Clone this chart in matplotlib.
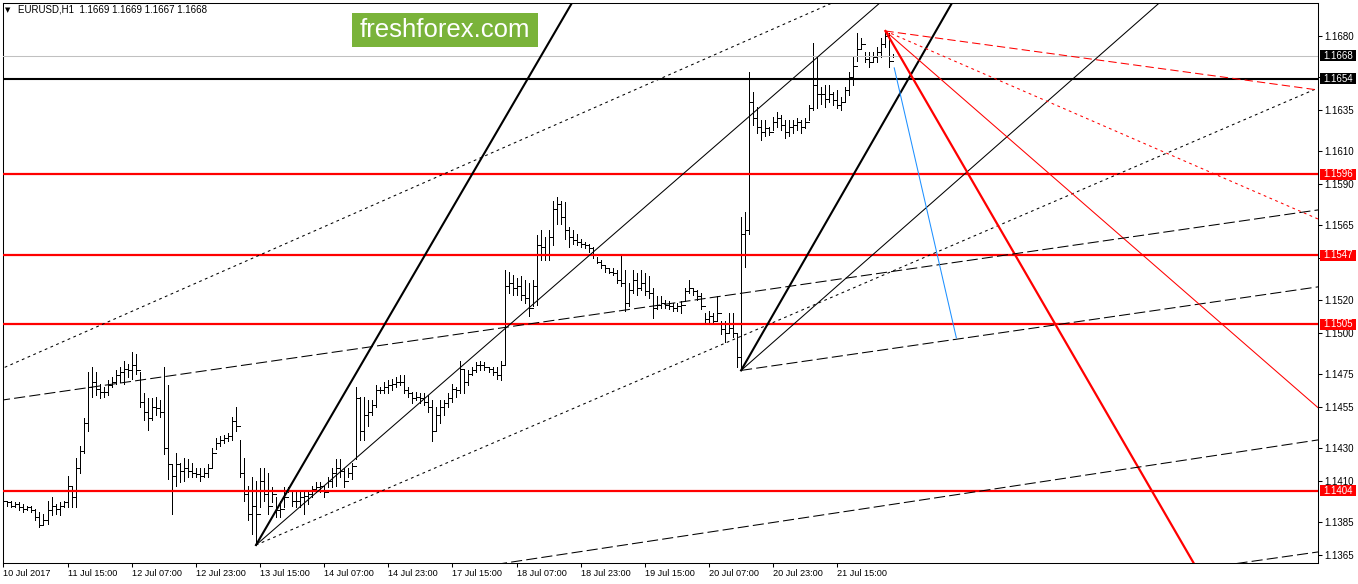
import matplotlib
matplotlib.use('Agg')
import matplotlib.pyplot as plt
import matplotlib.transforms as mtransforms
from matplotlib.patches import Rectangle
import numpy as np

plt.rcParams['font.family'] = ['Liberation Sans', 'DejaVu Sans']
plt.rcParams['lines.scale_dashes'] = False

# EURUSD H1 bars
highs = [1.1399, 1.1398, 1.1398, 1.1397, 1.1397, 1.1396, 1.1395, 1.1395, 1.1393, 1.1391,
         1.1390, 1.1398, 1.1400, 1.1396, 1.1397, 1.1398, 1.1413, 1.1406, 1.1424, 1.1431,
         1.1448, 1.1476, 1.1479, 1.1476, 1.1469, 1.1467, 1.1471, 1.1473, 1.1477, 1.1479,
         1.1483, 1.1481, 1.1488, 1.1487, 1.1476, 1.1463, 1.1460, 1.1460, 1.1461, 1.1459,
         1.1479, 1.1468, 1.1420, 1.1427, 1.1421, 1.1424, 1.1423, 1.1421, 1.1418, 1.1418,
         1.1418, 1.1420, 1.1430, 1.1436, 1.1437, 1.1438, 1.1439, 1.1449, 1.1455, 1.1435,
         1.1424, 1.1407, 1.1412, 1.1410, 1.1418, 1.1418, 1.1415, 1.1406, 1.1400, 1.1398,
         1.1406, 1.1406, 1.1403, 1.1403, 1.1403, 1.1404, 1.1404, 1.1407, 1.1409, 1.1409,
         1.1406, 1.1412, 1.1418, 1.1423, 1.1423, 1.1418, 1.1418, 1.1421, 1.1467, 1.1461,
         1.1461, 1.1459, 1.1459, 1.1468, 1.1467, 1.1470, 1.1471, 1.1472, 1.1473, 1.1474,
         1.1474, 1.1467, 1.1464, 1.1464, 1.1463, 1.1463, 1.1462, 1.1459, 1.1455, 1.1459,
         1.1459, 1.1463, 1.1469, 1.1467, 1.1483, 1.1477, 1.1477, 1.1479, 1.1482, 1.1483,
         1.1482, 1.1479, 1.1479, 1.1479, 1.1483, 1.1538, 1.1537, 1.1535, 1.1533, 1.1534,
         1.1532, 1.1530, 1.1532, 1.1559, 1.1562, 1.1558, 1.1562, 1.1580, 1.1582, 1.1580,
         1.1579, 1.1564, 1.1562, 1.1560, 1.1557, 1.1555, 1.1554, 1.1552, 1.1546, 1.1544,
         1.1541, 1.1539, 1.1539, 1.1538, 1.1547, 1.1538, 1.1530, 1.1538, 1.1536, 1.1538,
         1.1536, 1.1534, 1.1527, 1.1522, 1.1522, 1.1520, 1.1519, 1.1518, 1.1518, 1.1519,
         1.1527, 1.1532, 1.1527, 1.1526, 1.1524, 1.1512, 1.1513, 1.1512, 1.1522, 1.1507,
         1.1507, 1.1512, 1.1512, 1.1500, 1.1570, 1.1573, 1.1658, 1.1646, 1.1637, 1.1629,
         1.1629, 1.1625, 1.1631, 1.1634, 1.1632, 1.1629, 1.1629, 1.1629, 1.1630, 1.1629,
         1.1630, 1.1638, 1.1676, 1.1667, 1.1649, 1.1650, 1.1650, 1.1646, 1.1647, 1.1643,
         1.1649, 1.1658, 1.1667, 1.1682, 1.1679, 1.1670, 1.1670, 1.1670, 1.1673, 1.1679,
         1.1683, 1.1682, 1.1669]
lows = [1.1396, 1.1395, 1.1394, 1.1394, 1.1392, 1.1391, 1.1392, 1.1391, 1.1386, 1.1382,
        1.1383, 1.1384, 1.1389, 1.1390, 1.1389, 1.1394, 1.1394, 1.1394, 1.1394, 1.1415,
        1.1427, 1.1440, 1.1461, 1.1462, 1.1460, 1.1461, 1.1462, 1.1467, 1.1469, 1.1470,
        1.1469, 1.1473, 1.1472, 1.1475, 1.1455, 1.1447, 1.1441, 1.1447, 1.1450, 1.1449,
        1.1426, 1.1411, 1.1390, 1.1407, 1.1409, 1.1410, 1.1412, 1.1412, 1.1412, 1.1410,
        1.1412, 1.1412, 1.1418, 1.1429, 1.1431, 1.1433, 1.1434, 1.1435, 1.1440, 1.1412,
        1.1398, 1.1386, 1.1378, 1.1371, 1.1394, 1.1398, 1.1390, 1.1397, 1.1388, 1.1388,
        1.1394, 1.1403, 1.1395, 1.1394, 1.1394, 1.1390, 1.1396, 1.1400, 1.1403, 1.1403,
        1.1400, 1.1406, 1.1406, 1.1407, 1.1412, 1.1406, 1.1412, 1.1411, 1.1423, 1.1435,
        1.1435, 1.1443, 1.1450, 1.1455, 1.1463, 1.1463, 1.1463, 1.1465, 1.1467, 1.1468,
        1.1463, 1.1461, 1.1457, 1.1459, 1.1457, 1.1456, 1.1452, 1.1434, 1.1440, 1.1445,
        1.1450, 1.1455, 1.1458, 1.1461, 1.1463, 1.1463, 1.1468, 1.1474, 1.1476, 1.1477,
        1.1477, 1.1476, 1.1474, 1.1472, 1.1471, 1.1480, 1.1524, 1.1523, 1.1523, 1.1520,
        1.1518, 1.1510, 1.1516, 1.1517, 1.1544, 1.1544, 1.1544, 1.1553, 1.1566, 1.1566,
        1.1557, 1.1552, 1.1554, 1.1553, 1.1552, 1.1551, 1.1549, 1.1545, 1.1542, 1.1539,
        1.1537, 1.1536, 1.1535, 1.1530, 1.1528, 1.1513, 1.1516, 1.1524, 1.1523, 1.1526,
        1.1523, 1.1521, 1.1509, 1.1514, 1.1515, 1.1515, 1.1514, 1.1513, 1.1513, 1.1512,
        1.1519, 1.1524, 1.1523, 1.1520, 1.1514, 1.1505, 1.1506, 1.1505, 1.1507, 1.1499,
        1.1494, 1.1500, 1.1497, 1.1479, 1.1477, 1.1540, 1.1560, 1.1626, 1.1621, 1.1617,
        1.1619, 1.1620, 1.1623, 1.1625, 1.1623, 1.1618, 1.1619, 1.1621, 1.1623, 1.1621,
        1.1624, 1.1629, 1.1635, 1.1636, 1.1639, 1.1637, 1.1640, 1.1638, 1.1636, 1.1635,
        1.1640, 1.1644, 1.1650, 1.1665, 1.1672, 1.1664, 1.1661, 1.1664, 1.1664, 1.1667,
        1.1673, 1.1661, 1.1667]
closes = [1.1398, 1.1397, 1.1395, 1.1396, 1.1394, 1.1393, 1.1394, 1.1392, 1.1388, 1.1383,
          1.1386, 1.1392, 1.1395, 1.1393, 1.1395, 1.1397, 1.1407, 1.1400, 1.1418, 1.1428,
          1.1445, 1.1467, 1.1470, 1.1466, 1.1464, 1.1464, 1.1468, 1.1470, 1.1474, 1.1476,
          1.1478, 1.1477, 1.1480, 1.1477, 1.1458, 1.1452, 1.1448, 1.1455, 1.1454, 1.1452,
          1.1430, 1.1420, 1.1413, 1.1420, 1.1416, 1.1418, 1.1416, 1.1415, 1.1414, 1.1413,
          1.1415, 1.1418, 1.1427, 1.1433, 1.1435, 1.1436, 1.1437, 1.1446, 1.1443, 1.1415,
          1.1402, 1.1390, 1.1395, 1.1390, 1.1410, 1.1402, 1.1395, 1.1402, 1.1392, 1.1393,
          1.1400, 1.1404, 1.1398, 1.1398, 1.1400, 1.1401, 1.1402, 1.1405, 1.1406, 1.1407,
          1.1403, 1.1410, 1.1415, 1.1418, 1.1416, 1.1410, 1.1415, 1.1419, 1.1460, 1.1440,
          1.1450, 1.1452, 1.1456, 1.1465, 1.1465, 1.1467, 1.1468, 1.1469, 1.1470, 1.1470,
          1.1465, 1.1463, 1.1460, 1.1461, 1.1460, 1.1458, 1.1455, 1.1440, 1.1450, 1.1455,
          1.1457, 1.1460, 1.1466, 1.1465, 1.1478, 1.1470, 1.1475, 1.1477, 1.1480, 1.1480,
          1.1479, 1.1478, 1.1476, 1.1474, 1.1480, 1.1528, 1.1530, 1.1527, 1.1528, 1.1523,
          1.1521, 1.1515, 1.1528, 1.1553, 1.1552, 1.1547, 1.1558, 1.1575, 1.1578, 1.1570,
          1.1562, 1.1558, 1.1556, 1.1555, 1.1554, 1.1553, 1.1551, 1.1547, 1.1543, 1.1541,
          1.1539, 1.1537, 1.1536, 1.1532, 1.1530, 1.1518, 1.1526, 1.1532, 1.1527, 1.1530,
          1.1525, 1.1524, 1.1515, 1.1517, 1.1518, 1.1517, 1.1516, 1.1515, 1.1516, 1.1517,
          1.1525, 1.1527, 1.1525, 1.1522, 1.1516, 1.1508, 1.1510, 1.1507, 1.1512, 1.1502,
          1.1500, 1.1503, 1.1500, 1.1485, 1.1560, 1.1562, 1.1640, 1.1630, 1.1625, 1.1622,
          1.1624, 1.1622, 1.1628, 1.1630, 1.1626, 1.1622, 1.1625, 1.1626, 1.1628, 1.1625,
          1.1628, 1.1636, 1.1650, 1.1645, 1.1645, 1.1642, 1.1645, 1.1641, 1.1638, 1.1640,
          1.1647, 1.1655, 1.1662, 1.1672, 1.1675, 1.1666, 1.1664, 1.1667, 1.1670, 1.1675,
          1.1680, 1.1665, 1.1668]
first_open = 1.1398

date_ticks = list(range(0, 209, 16))
date_labels = ['10 Jul 2017', '11 Jul 15:00', '12 Jul 07:00', '12 Jul 23:00', '13 Jul 15:00',
               '14 Jul 07:00', '14 Jul 23:00', '17 Jul 15:00', '18 Jul 07:00', '18 Jul 23:00',
               '19 Jul 15:00', '20 Jul 07:00', '20 Jul 23:00', '21 Jul 15:00']
price_ticks = [1.1365, 1.1385, 1.1410, 1.1430, 1.1455, 1.1475, 1.1500, 1.1520,
               1.1545, 1.1565, 1.1590, 1.1610, 1.1635, 1.1655, 1.1680]
# these two scale labels sit fully under the level boxes
hidden_ticks = [1.1545, 1.1655]

red_levels = [1.1596, 1.1547, 1.1505, 1.1404]
black_level = 1.1654
bid_price = 1.1668

# trend line anchors: (bar0, price0, bar1, price1)
fan_low1 = [(63, 1.1371, 141.8, 1.1700),    # thick
            (63, 1.1371, 218.6, 1.1700),    # thin
            (63, 1.1371, 327.9, 1.16484)]   # dotted
fan_low2 = [(184, 1.1477, 236.6, 1.1700),   # thick
            (184, 1.1477, 288.3, 1.1700),   # thin
            (184, 1.1477, 327.9, 1.15277)]  # dashed
fan_high = [(220, 1.1683, 296.9, 1.1360),   # thick
            (220, 1.1683, 327.9, 1.14544),  # thin
            (220, 1.1683, 327.9, 1.15689),  # dotted
            (220, 1.1683, 327.9, 1.16472)]  # dashed
upper_dotted = (0, 1.14785, 206.7, 1.1700)
dashed_upper = (0, 1.14591, 327.9, 1.15744)
dashed_mid = (125.2, 1.13601, 327.9, 1.14348)
dashed_low = (308.5, 1.13601, 327.9, 1.13668)
blue_seg = (222.2, 1.16606, 237.7, 1.14967)

W, H = 1358, 584
fig = plt.figure(figsize=(W / 100, H / 100), dpi=100)
ax = fig.add_axes([3 / W, 21 / H, 1315 / W, 560 / H])
ax.set_xlim(-0.1, 327.9)
ax.set_ylim(1.13601, 1.17000)

# OHLC bars
x = np.arange(len(highs))
opens = [first_open] + closes[:-1]
ax.vlines(x, lows, highs, color='black', lw=0.72, antialiased=False, zorder=2)
ax.hlines(opens, x - 0.4, x, color='black', lw=0.72, antialiased=False, zorder=2)
ax.hlines(closes, x, x + 0.4, color='black', lw=0.72, antialiased=False, zorder=2)


def ray(seg, **kw):
    x0, p0, x1, p1 = seg
    k = (p1 - p0) / (x1 - x0)
    ax.plot([x0, 400], [p0, p0 + k * (400 - x0)], zorder=3, **kw)


def line(seg, **kw):
    x0, p0, x1, p1 = seg
    k = (p1 - p0) / (x1 - x0)
    ax.plot([-50, 400], [p0 + k * (-50 - x0), p0 + k * (400 - x0)], zorder=3, **kw)


dot = (2, 2.5)
dash = (8, 3)

# horizontal levels
ax.axhline(bid_price, color='#c0c0c0', lw=0.75, zorder=3)
ax.axhline(black_level, color='black', lw=1.5, zorder=3)
for lv in red_levels:
    ax.axhline(lv, color='red', lw=1.6, zorder=3)

ray(fan_low1[0], color='black', lw=1.5)
ray(fan_low1[1], color='black', lw=0.75)
ray(fan_low1[2], color='black', lw=0.75, dashes=dot)
ray(fan_low2[0], color='black', lw=1.5)
ray(fan_low2[1], color='black', lw=0.75)
ray(fan_low2[2], color='black', lw=0.75, dashes=dash)
ray(fan_high[0], color='red', lw=1.6)
ray(fan_high[1], color='red', lw=0.75)
ray(fan_high[2], color='red', lw=0.75, dashes=dot)
ray(fan_high[3], color='red', lw=0.75, dashes=(6, 3))
line(upper_dotted, color='black', lw=0.75, dashes=dot)
line(dashed_upper, color='black', lw=0.75, dashes=dash)
line(dashed_mid, color='black', lw=0.75, dashes=dash)
line(dashed_low, color='black', lw=0.75, dashes=dash)
ax.plot(blue_seg[0::2], blue_seg[1::2], color='#1e90ff', lw=0.75, zorder=3)

# axes look
for s in ax.spines.values():
    s.set_linewidth(0.75)
ax.yaxis.tick_right()
ax.set_yticks(price_ticks)
ax.set_yticklabels(['' if p in hidden_ticks else '%.4f' % p for p in price_ticks])
ax.set_xticks(date_ticks)
ax.set_xticklabels(date_labels, ha='left')
ax.tick_params(axis='both', direction='out', length=3, width=0.75)
ax.tick_params(axis='y', pad=1.5, labelsize=7)
ax.tick_params(axis='x', pad=1.5, labelsize=6.6)

# price labels on the right scale
trans = mtransforms.blended_transform_factory(fig.transFigure, ax.transData)
box_h = 11 / 16476
for p, c in [(bid_price, 'black'), (black_level, 'black')] + [(lv, 'red') for lv in red_levels]:
    ax.add_patch(Rectangle((1320 / W, p - box_h / 2), 36 / W, box_h, transform=trans,
                           facecolor=c, edgecolor='none', clip_on=False, zorder=5))
    ax.text(1338 / W, p, '%.4f' % p, transform=trans, color='white', fontsize=7,
            ha='center', va='center', clip_on=False, zorder=6)

# header and logo
fig.text(5 / W, 1 - 10 / H, '\u25bc', fontsize=5, va='center', family='DejaVu Sans')
fig.text(18 / W, 1 - 10 / H, 'EURUSD,H1  1.1669 1.1669 1.1667 1.1668', fontsize=7, va='center')
fig.add_artist(Rectangle((352 / W, 1 - 47 / H), 186 / W, 34 / H, transform=fig.transFigure,
                         facecolor='#7ab33a', edgecolor='none'))
fig.text(445 / W, 1 - 30 / H, 'freshforex.com', fontsize=18.5, color='white',
         ha='center', va='center')

fig.savefig('out.png', dpi=100)
